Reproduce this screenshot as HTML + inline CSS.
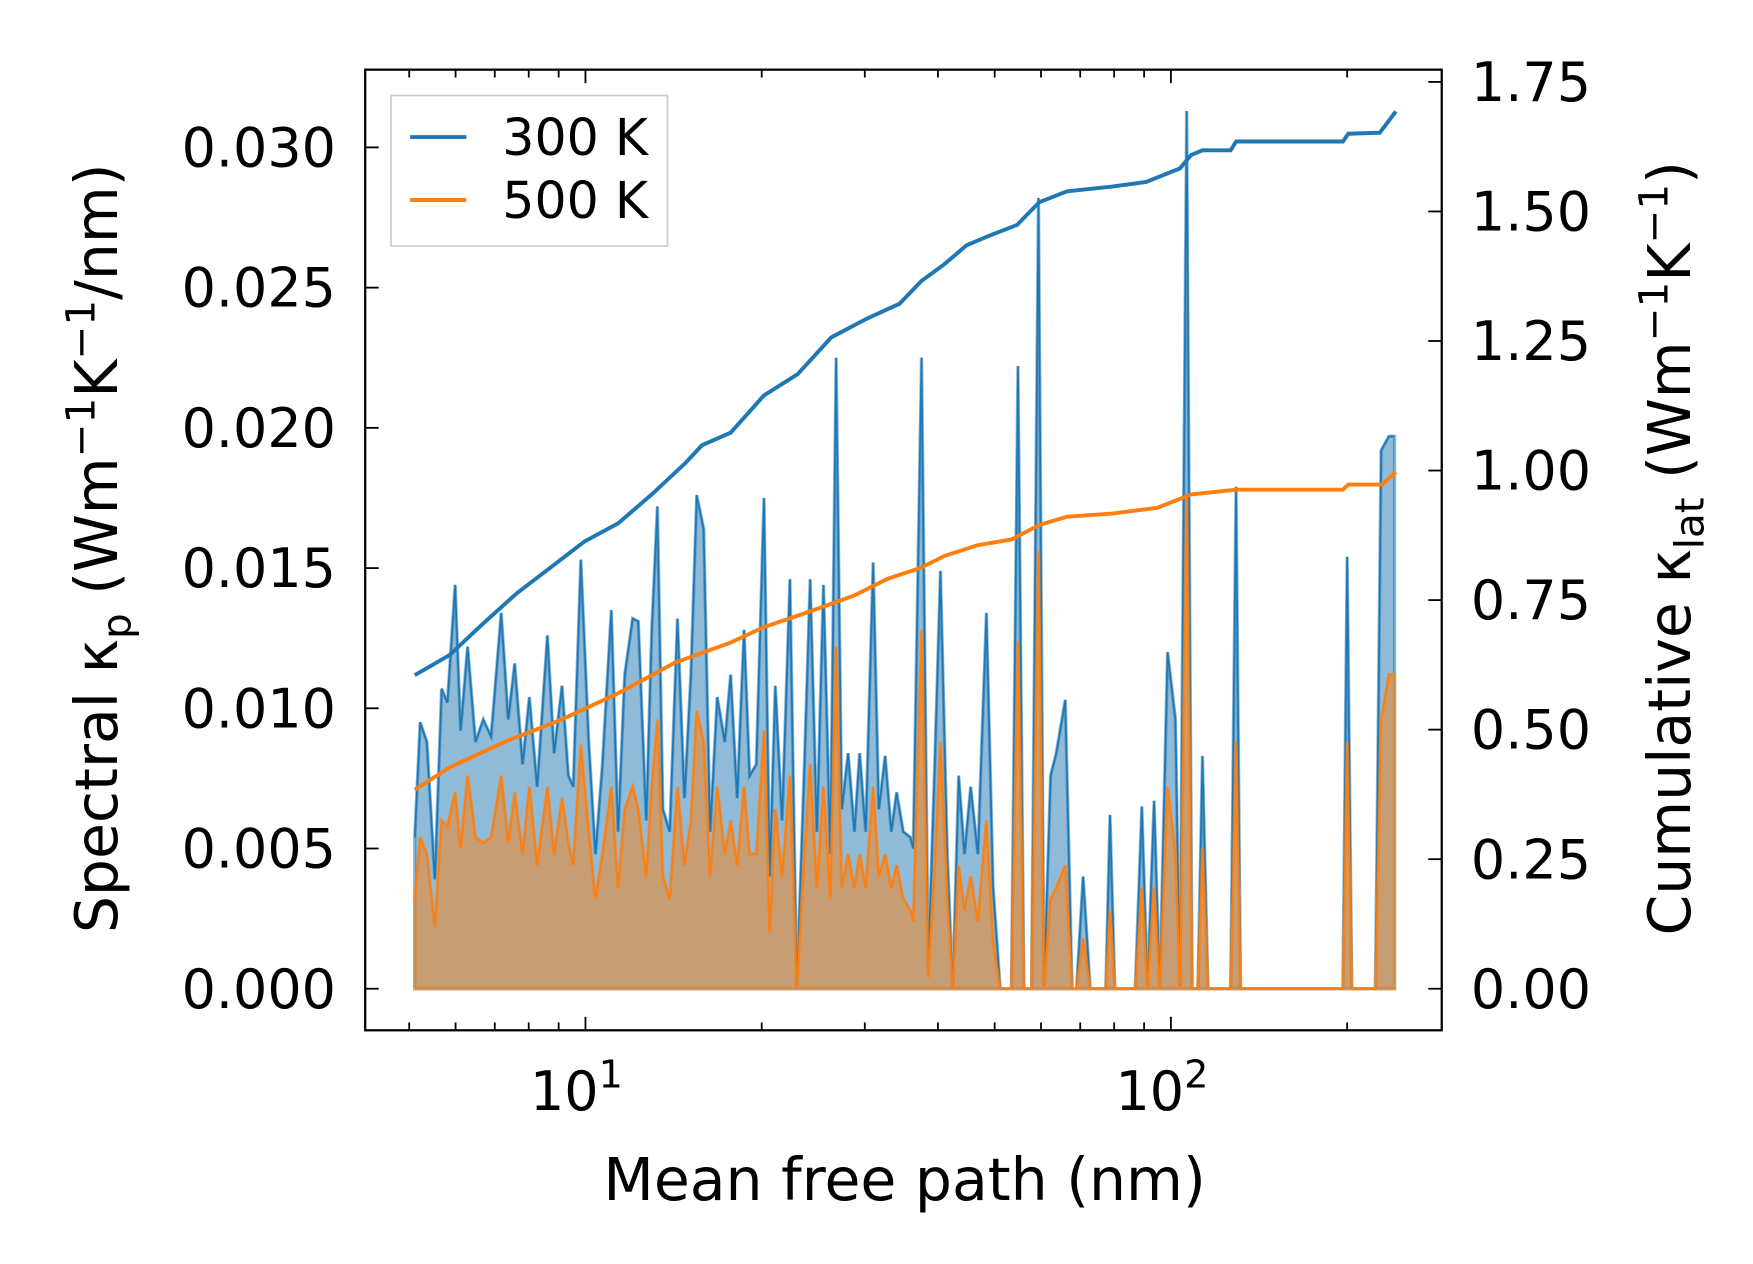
<!DOCTYPE html>
<html><head><meta charset="utf-8"><style>
html,body{margin:0;padding:0;background:#fff}
svg{display:block}
text{font-family:"DejaVu Sans","Liberation Sans",sans-serif;fill:#000}
</style></head><body>
<svg id="chart" width="1753" height="1264" viewBox="0 0 1560 1125" preserveAspectRatio="none" xmlns="http://www.w3.org/2000/svg">
<g id="plot"></g>
</svg>
<script>
const specMfp=[5.11,5.22,5.36,5.53,5.68,5.81,5.99,6.12,6.29,6.49,6.69,6.90,7.18,7.38,7.57,7.81,8.02,8.27,8.61,8.84,9.12,9.35,9.53,9.82,10.13,10.4,10.69,11.07,11.37,11.67,12.04,12.31,12.7,12.98,13.27,13.56,13.93,14.36,14.76,15.14,15.49,15.92,16.33,16.79,17.3,17.7,18.16,18.66,19.07,19.58,20.18,20.64,21.1,21.67,22.35,22.96,23.66,24.2,24.85,25.5,26.2,26.8,27.4,28.1,28.8,29.4,30.1,31.0,31.7,32.5,33.3,34.0,34.9,35.9,36.3,37.5,38.5,39.5,40.4,41.5,42.4,43.4,44.4,45.5,46.8,48.4,49.7,51.1,53.4,54.8,56.1,57.8,59.4,60.7,62.3,63.7,66.0,67.8,69.0,70.8,72.8,75.4,77.4,78.7,80.2,84.9,86.9,89.2,91.2,93.6,95.7,98.7,101.8,103.6,106.4,108.7,111.2,113.2,115.7,126.5,129.2,131.5,196.7,200,203.7,223.5,228.6,235.7,241];
const spec300=[.0054,.0095,.0088,.0039,.0107,.0102,.0144,.0092,.0122,.0088,.0096,.0090,.0134,.0096,.0116,.0080,.0104,.0072,.0126,.0084,.0108,.0076,.0072,.0153,.0088,.0048,.0080,.0135,.0056,.0112,.0132,.0131,.0060,.0128,.0172,.0064,.0056,.0132,.0068,.0112,.0176,.0164,.0056,.0104,.0088,.0112,.0068,.0128,.0076,.0080,.0175,.0040,.0108,.0060,.0146,0,.0080,.0146,.0056,.0144,.0048,.0225,.0064,.0084,.0056,.0084,.0056,.0152,.0064,.0083,.0056,.0070,.0056,.0054,.0050,.0225,.0008,.0080,.0149,.0048,0,.0076,.0048,.0072,.0048,.0134,.0036,0,0,.0222,0,0,.0282,0,.0076,.0084,.0103,0,0,.0040,0,0,0,.0062,0,0,0,.0065,0,.0067,0,.0120,.0096,0,.0313,0,0,.0083,0,0,.0179,0,0,.0154,0,0,.0192,.0197,.0197];
const spec500=[.0032,.0054,.0048,.0022,.0060,.0058,.0070,.0050,.0076,.0054,.0052,.0054,.0076,.0052,.0070,.0048,.0072,.0044,.0072,.0048,.0068,.0052,.0044,.0087,.0056,.0032,.0048,.0072,.0036,.0064,.0072,.0064,.0040,.0072,.0096,.0040,.0032,.0072,.0044,.0060,.0099,.0088,.0040,.0072,.0048,.0060,.0044,.0072,.0048,.0048,.0092,.0020,.0064,.0040,.0076,0,.0048,.0080,.0036,.0072,.0032,.0122,.0036,.0048,.0036,.0048,.0036,.0072,.0040,.0048,.0036,.0044,.0032,.0028,.0024,.0128,.0004,.0044,.0088,.0032,0,.0044,.0028,.0040,.0024,.0060,.0016,0,0,.0124,0,0,.0156,0,.0032,.0036,.0044,0,0,.0018,0,0,0,.0028,0,0,0,.0036,0,.0036,0,.0072,.0048,0,.0176,0,0,.0050,0,0,.0088,0,0,.0088,0,0,.0096,.0112,.0112];
const cumMfp300=[5.11,5.86,6.69,7.63,8.72,9.96,11.37,12.98,14.83,15.82,17.7,20.18,23.04,26.3,30.1,34.4,37.5,41.0,44.8,48.9,54.6,59.6,66.5,79.4,90.7,103.6,108.3,113.2,126.5,129.2,196.7,200.9,227.4,242.2];
const cum300=[.605,.644,.705,.763,.813,.863,.898,.954,1.015,1.049,1.073,1.145,1.186,1.257,1.292,1.322,1.366,1.398,1.435,1.453,1.474,1.518,1.539,1.548,1.557,1.583,1.609,1.618,1.618,1.635,1.635,1.650,1.652,1.693];
const cumMfp500=[5.11,5.86,7.3,9.12,11.37,14.2,17.7,20.18,23.9,28.8,32.8,37.5,41.0,46.8,53.4,59.6,66.5,79.4,94.8,108.3,129.2,196.7,200.9,229.5,242.2];
const cum500=[.384,.427,.477,.520,.570,.629,.668,.698,.726,.759,.791,.813,.835,.856,.867,.895,.911,.917,.928,.954,.963,.963,.973,.973,.997];
const leftTicks=[0,0.005,0.010,0.015,0.020,0.025,0.030];
const leftLabels=["0.000","0.005","0.010","0.015","0.020","0.025","0.030"];
const rightTicks=[0,0.25,0.5,0.75,1.0,1.25,1.5,1.75];
const rightLabels=["0.00","0.25","0.50","0.75","1.00","1.25","1.50","1.75"];

const L=325,R=1283,T=62,B=917;
const xs=v=>521*Math.log10(v);
const yl=v=>880-v/0.005*124.8;
const yr=v=>880-v/0.25*115.3;
const NS="http://www.w3.org/2000/svg";
const g=document.getElementById('plot');
function el(tag,attrs,parent){const e=document.createElementNS(NS,tag);for(const k in attrs)e.setAttribute(k,attrs[k]);(parent||g).appendChild(e);return e;}

function fillPath(xsArr,ys){let d=`M${xs(xsArr[0])},${yl(0)}`;xsArr.forEach((m,i)=>d+=`L${xs(m)},${yl(ys[i])}`);d+=`L${xs(xsArr[xsArr.length-1])},${yl(0)}Z`;return d;}
function linePath(xsArr,ys,yf){return xsArr.map((m,i)=>(i?'L':'M')+xs(m)+','+yf(ys[i])).join('');}

let e;
e=el('path',{d:fillPath(specMfp,spec300),fill:'#1f77b4','fill-opacity':0.5,stroke:'#1f77b4','stroke-opacity':0.5,'stroke-width':3});

e=el('path',{d:linePath(specMfp,spec300,yl),fill:'none',stroke:'#1f77b4','stroke-width':1.5});

e=el('path',{d:fillPath(specMfp,spec500),fill:'#ff7f0e','fill-opacity':0.5,stroke:'#ff7f0e','stroke-opacity':0.5,'stroke-width':3});

e=el('path',{d:linePath(specMfp,spec500,yl),fill:'none',stroke:'#ff7f0e','stroke-width':1.5});

e=el('path',{d:linePath(cumMfp300,cum300,yr),fill:'none',stroke:'#1f77b4','stroke-width':3.5});

e=el('path',{d:linePath(cumMfp500,cum500,yr),fill:'none',stroke:'#ff7f0e','stroke-width':3.5});


e=el('rect',{x:L,y:T,width:R-L,height:B-T,fill:'none',stroke:'#000','stroke-width':2});


const ax=el('g',{});

for(let dec=1;dec<=100;dec*=10){for(let k=1;k<10;k++){const v=k*dec;const px=xs(v);if(px<L||px>R)continue;const len=k===1?12:7;
el('line',{x1:px,x2:px,y1:B,y2:B-len,stroke:'#000','stroke-width':1.6},ax);
el('line',{x1:px,x2:px,y1:T,y2:T+len,stroke:'#000','stroke-width':1.6},ax);}}
[[10,'1'],[100,'2']].forEach(([v,p])=>{const t=el('text',{x:xs(v)-8,y:988,'font-size':48,'text-anchor':'middle'},ax);

t.textContent='10';const s=el('tspan',{dy:-20,'font-size':34},t);s.textContent=p;});
const ayl=el('g',{});

leftTicks.forEach((v,i)=>{el('line',{x1:L,x2:L+12,y1:yl(v),y2:yl(v),stroke:'#000','stroke-width':1.6},ayl);
const t=el('text',{x:299,y:yl(v)+17,'font-size':48,'text-anchor':'end'},ayl);

t.textContent=leftLabels[i];});
const ayr=el('g',{});

rightTicks.forEach((v,i)=>{el('line',{x1:R,x2:R-12,y1:yr(v),y2:yr(v),stroke:'#000','stroke-width':1.6},ayr);
const t=el('text',{x:1309,y:yr(v)+17,'font-size':48,'text-anchor':'start'},ayr);

t.textContent=rightLabels[i];});
</script>
<svg style="position:absolute;left:0;top:0" width="1753" height="1264" viewBox="0 0 1560 1125" preserveAspectRatio="none" xmlns="http://www.w3.org/2000/svg">
<text x="805" y="1068" font-size="52" text-anchor="middle">Mean free path (nm)</text>
<text transform="translate(104,488) rotate(-90)" font-size="52" text-anchor="middle">Spectral κ<tspan font-size="36" dy="12">p</tspan><tspan dy="-12"> (Wm</tspan><tspan font-size="36" dy="-20">−1</tspan><tspan dy="20">K</tspan><tspan font-size="36" dy="-20">−1</tspan><tspan dy="20">/nm)</tspan></text>
<text transform="translate(1504,488) rotate(-90)" font-size="52" text-anchor="middle">Cumulative κ<tspan font-size="36" dy="12">lat</tspan><tspan dy="-12"> (Wm</tspan><tspan font-size="36" dy="-20">−1</tspan><tspan dy="20">K</tspan><tspan font-size="36" dy="-20">−1</tspan><tspan dy="20">)</tspan></text>
<g>
<rect x="348" y="85" width="246" height="134" fill="#fff" fill-opacity="0.8" stroke="#ccc" stroke-width="1.5"/>
<line x1="365" x2="415" y1="122" y2="122" stroke="#1f77b4" stroke-width="3.5"/>
<text x="447" y="138" font-size="45">300 K</text>
<line x1="365" x2="415" y1="178" y2="178" stroke="#ff7f0e" stroke-width="3.5"/>
<text x="447" y="194" font-size="45">500 K</text>
</g>
</svg>
</body></html>
